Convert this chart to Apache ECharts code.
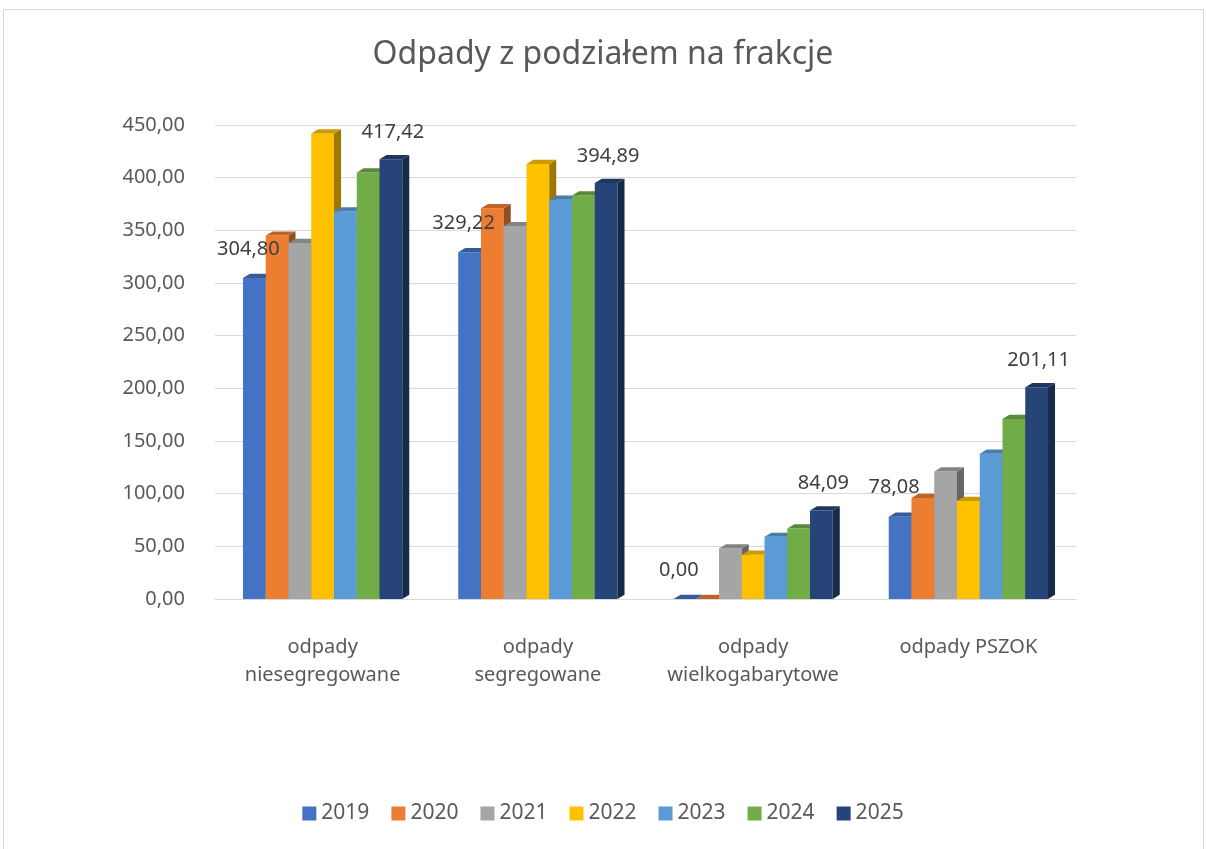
<!DOCTYPE html>
<html>
<head>
<meta charset="utf-8">
<script src="https://cdn.jsdelivr.net/npm/echarts@6/dist/echarts.min.js"></script>
<style>
html,body{margin:0;padding:0;background:#fff;}
#chart{width:1206px;height:849px;}
</style>
</head>
<body>
<div id="chart"></div>
<script>
const categories = ['odpady\nniesegregowane', 'odpady\nsegregowane', 'odpady\nwielkogabarytowe', 'odpady PSZOK'];
const years = ['2019', '2020', '2021', '2022', '2023', '2024', '2025'];
const v2019 = [304.80, 329.22, 0.00, 78.08];
const v2020 = [345, 371, 0, 96];
const v2021 = [338, 354, 48, 121];
const v2022 = [442, 413, 42, 93];
const v2023 = [368, 379, 59, 138];
const v2024 = [405, 383, 67, 171];
const v2025 = [417.42, 394.89, 84.09, 201.11];
const yTicks = [0, 50, 100, 150, 200, 250, 300, 350, 400, 450];
const colors = ['#4472C4', '#ED7D31', '#A5A5A5', '#FFC000', '#5B9BD5', '#70AD47', '#264478'];
const labeledSeries = [0, 6];

const allValues = [v2019, v2020, v2021, v2022, v2023, v2024, v2025];

function shade(hex, f) {
  const n = parseInt(hex.slice(1), 16);
  const r = Math.round(((n >> 16) & 255) * f);
  const g = Math.round(((n >> 8) & 255) * f);
  const b = Math.round((n & 255) * f);
  return 'rgb(' + r + ',' + g + ',' + b + ')';
}
function fmt(v) { return v.toFixed(2).replace('.', ','); }

const D = 7; // depth offset in px
const GROUP = 0.74;

function barGeom(api, s) {
  const cat = api.value(0);
  const val = api.value(1);
  const band = api.size([1, 0])[0];
  const groupW = band * GROUP;
  const bw = groupW / 7;
  const base = api.coord([cat, 0]);
  const topP = api.coord([cat, val]);
  return { val: val, x0: base[0] - groupW / 2 + s * bw, bw: bw, yb: base[1], yt: topP[1] };
}

const series = years.map((y, s) => ({
  name: y,
  type: 'custom',
  itemStyle: { color: colors[s] },
  encode: { x: 0, y: 1 },
  data: allValues[s].map((v, i) => [i, v]),
  z: 2 + s,
  renderItem: function (params, api) {
    const g = barGeom(api, s);
    const c = colors[s];
    const x0 = g.x0, bw = g.bw, yt = g.yt, yb = g.yb;
    return {
      type: 'group',
      children: [
        { type: 'rect', shape: { x: x0, y: yt, width: bw, height: yb - yt }, style: { fill: c } },
        { type: 'polygon', shape: { points: [[x0 + bw, yt], [x0 + bw + D, yt - D * 0.6], [x0 + bw + D, yb - D * 0.6], [x0 + bw, yb]] }, style: { fill: shade(c, 0.62) } },
        { type: 'polygon', shape: { points: [[x0, yt], [x0 + D, yt - D * 0.6], [x0 + bw + D, yt - D * 0.6], [x0 + bw, yt]] }, style: { fill: shade(c, 0.8) } }
      ]
    };
  }
}));

labeledSeries.forEach(s => {
  series.push({
    name: 'label' + years[s],
    type: 'custom',
    encode: { x: 0, y: 1 },
    data: allValues[s].map((v, i) => [i, v]),
    z: 50,
    silent: true,
    renderItem: function (params, api) {
      const g = barGeom(api, s);
      return {
        type: 'text',
        style: {
          text: fmt(g.val),
          x: g.x0 + g.bw / 2 + (s === 0 ? -6 : 2),
          y: g.yt - D - (s === 0 ? 12 : 10),
          align: 'center',
          verticalAlign: 'bottom',
          fill: '#404040',
          font: '20px "Noto Sans", sans-serif'
        }
      };
    }
  });
});

const chart = echarts.init(document.getElementById('chart'), null, { renderer: 'canvas' });
chart.setOption({
  backgroundColor: '#ffffff',
  animation: false,
  color: colors,
  title: {
    text: 'Odpady z podziałem na frakcje',
    left: 'center',
    top: 34,
    textStyle: { color: '#595959', fontSize: 32, fontWeight: 'normal', fontFamily: '"Noto Sans", sans-serif' }
  },
  graphic: [{
    type: 'rect',
    shape: { x: 3.5, y: 9.5, width: 1200, height: 860 },
    style: { fill: 'none', stroke: '#d9d9d9', lineWidth: 1 },
    silent: true, z: -1
  }],
  legend: {
    bottom: 20,
    left: 'center',
    itemWidth: 14,
    itemHeight: 14,
    itemGap: 22,
    icon: 'rect',
    textStyle: { color: '#595959', fontSize: 21, fontFamily: '"Noto Sans", sans-serif' },
    data: years
  },
  grid: { left: 215, right: 130, top: 125, bottom: 250, containLabel: false },
  xAxis: {
    type: 'category',
    data: categories,
    axisLine: { show: true, lineStyle: { color: '#d9d9d9' } },
    axisTick: { show: false },
    axisLabel: { color: '#595959', fontSize: 20, lineHeight: 28, margin: 34, interval: 0, fontFamily: '"Noto Sans", sans-serif' }
  },
  yAxis: {
    type: 'value',
    min: yTicks[0],
    max: yTicks[yTicks.length - 1],
    interval: 50,
    axisLine: { show: false },
    axisTick: { show: false },
    splitLine: { lineStyle: { color: '#d9d9d9', width: 1 } },
    axisLabel: { color: '#595959', fontSize: 20, margin: 30, formatter: v => fmt(v), fontFamily: '"Noto Sans", sans-serif' }
  },
  series: series
});
</script>
</body>
</html>
